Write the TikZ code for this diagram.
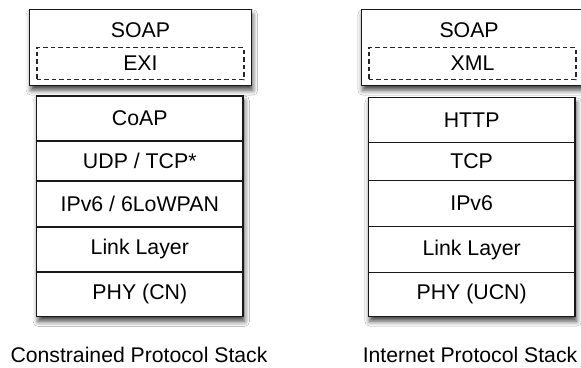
\documentclass[tikz,border=0pt]{standalone}
\usepackage{fontspec}
\setmainfont{Liberation Sans}
\usetikzlibrary{shadows.blur,calc}
\begin{document}
\begin{tikzpicture}[x=1pt,y=-1pt,
  box/.style={draw=black!90, line width=1.3pt, fill=white, inner sep=0pt, anchor=north west},
  shad/.style={blur shadow={shadow xshift=1.5pt, shadow yshift=-5pt, shadow blur radius=5pt, shadow opacity=75}},
  dbox/.style={draw=black!85, line width=1.3pt, dash pattern=on 4.5pt off 3pt, inner sep=0pt, anchor=north west},
  lbl/.style={font=\fontsize{21.3}{25}\selectfont, inner sep=0pt},
  captxt/.style={font=\fontsize{21.2}{25}\selectfont, inner sep=0pt}]
\clip (0,0) rectangle (581,367);
\fill[white] (0,0) rectangle (581,367);
% ---- left stack ----
\node[box, shad, minimum width=221.5pt, minimum height=75.5pt] (soapL) at (29,9) {};
\node[lbl] (tsoapL) at ($(soapL.north)+(0,21)$) {SOAP};
\node[dbox, minimum width=207pt, minimum height=32pt] (exiL) at (36.3,47) {};
\node[lbl] at (exiL.center) {EXI};
\node[box, shad, minimum width=206.3pt, minimum height=220.5pt] (stackL) at (36,95.2) {};
\node[box, minimum width=206.3pt, minimum height=45pt] (coapL) at (36,95.2) {};
\node[box, minimum width=206.3pt, minimum height=40pt] (udpL) at (36,140.2) {};
\node[box, minimum width=206.3pt, minimum height=46pt] (ipL) at (36,180.2) {};
\node[box, minimum width=206.3pt, minimum height=45pt] (linkL) at (36,226.2) {};
\node[box, minimum width=206.3pt, minimum height=44.5pt] (phyL) at (36,271.2) {};
\node[lbl] at (coapL.center) {CoAP};
\node[lbl] at (udpL.center) {UDP / TCP*};
\node[lbl] at (ipL.center) {IPv6 / 6LoWPAN};
\node[lbl] at (linkL.center) {Link Layer};
\node[lbl] at (phyL.center) {PHY (CN)};
\node[captxt] (capL) at (139,355) {Constrained Protocol Stack};
% ---- right stack ----
\node[box, shad, minimum width=221.5pt, minimum height=75.5pt] (soapR) at (360.7,9) {};
\node[lbl] at ($(soapR.north)+(-3,21)$) {SOAP};
\node[dbox, minimum width=207pt, minimum height=32pt] (xmlR) at (368.3,47) {};
\node[lbl] at (xmlR.center) {XML};
\node[box, shad, minimum width=206.6pt, minimum height=218.5pt] (stackR) at (367.7,97) {};
\node[box, minimum width=206.6pt, minimum height=45pt] (httpR) at (367.7,97) {};
\node[box, minimum width=206.6pt, minimum height=38pt] (tcpR) at (367.7,142) {};
\node[box, minimum width=206.6pt, minimum height=46pt] (ipR) at (367.7,180) {};
\node[box, minimum width=206.6pt, minimum height=46pt] (linkR) at (367.7,226) {};
\node[box, minimum width=206.6pt, minimum height=43.5pt] (phyR) at (367.7,272) {};
\node[lbl] at (httpR.center) {HTTP};
\node[lbl] at (tcpR.center) {TCP};
\node[lbl] at (ipR.center) {IPv6};
\node[lbl] at (linkR.center) {Link Layer};
\node[lbl] at (phyR.center) {PHY (UCN)};
\node[captxt] (capR) at (470,355) {Internet Protocol Stack};
\end{tikzpicture}
\end{document}
